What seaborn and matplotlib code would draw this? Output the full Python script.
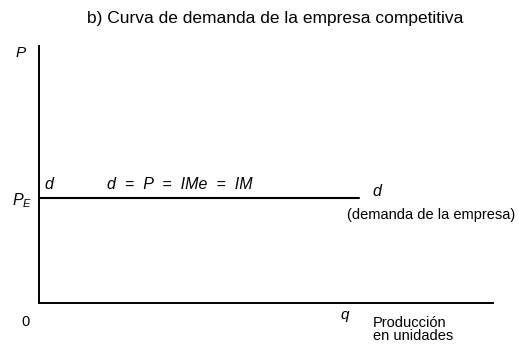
import numpy as np
import pandas as pd
import matplotlib
matplotlib.use("Agg")
import matplotlib.pyplot as plt
import seaborn as sns

# demand of the competitive firm: horizontal at P_E
q_vals = [0.0, 7.05]
p_vals = [4.09, 4.09]

sns.set_style("white")
plt.rcParams["font.family"] = ["Liberation Sans", "DejaVu Sans"]
plt.rcParams["text.color"] = "black"
plt.rcParams["mathtext.fontset"] = "custom"
plt.rcParams["mathtext.it"] = "Liberation Sans:italic"
plt.rcParams["mathtext.rm"] = "Liberation Sans"

fig = plt.figure(figsize=(5.19, 3.47), dpi=100)
ax = fig.add_axes([39 / 519, 44 / 347, 454 / 519, 257 / 347])

df = pd.DataFrame({"q": q_vals, "P": p_vals})
sns.lineplot(data=df, x="q", y="P", ax=ax, color="black", linewidth=1.5)

ax.set_xlim(0, 10)
ax.set_ylim(0, 10)
ax.set_xticks([])
ax.set_yticks([])
ax.set_xlabel("")
ax.set_ylabel("")
sns.despine(ax=ax)
for s in ["left", "bottom"]:
    ax.spines[s].set_color("black")
    ax.spines[s].set_linewidth(1.4)

kw = dict(clip_on=False, color="black")
ax.text(-0.40, 9.73, "P", fontsize=11, style="italic", ha="center", va="center", **kw)
ax.text(-0.37, 3.97, "$P_E$", fontsize=11.5, ha="center", va="center", **kw)
ax.text(0.13, 4.63, "d", fontsize=11.5, style="italic", ha="left", va="center", **kw)
ax.text(1.5, 4.63, "d  =  P  =  IMe  =  IM", fontsize=11.5, style="italic",
        ha="left", va="center", **kw)
ax.text(7.44, 4.32, "d", fontsize=11.5, style="italic", ha="center", va="center", **kw)
ax.text(6.78, 3.42, "(demanda de la empresa)", fontsize=10.5, ha="left", va="center", **kw)
ax.text(-0.3, -0.74, "0", fontsize=10.5, ha="center", va="center", **kw)
ax.text(6.74, -0.47, "q", fontsize=11, style="italic", ha="center", va="center", **kw)
ax.text(7.36, -0.51, "Producción\nen unidades", fontsize=10.5, ha="left", va="top",
        linespacing=0.9, **kw)

fig.text(275 / 519, 1 - 18 / 347, "b) Curva de demanda de la empresa competitiva",
         fontsize=12.5, ha="center", va="center", color="black")

fig.savefig("out.png", dpi=100)
